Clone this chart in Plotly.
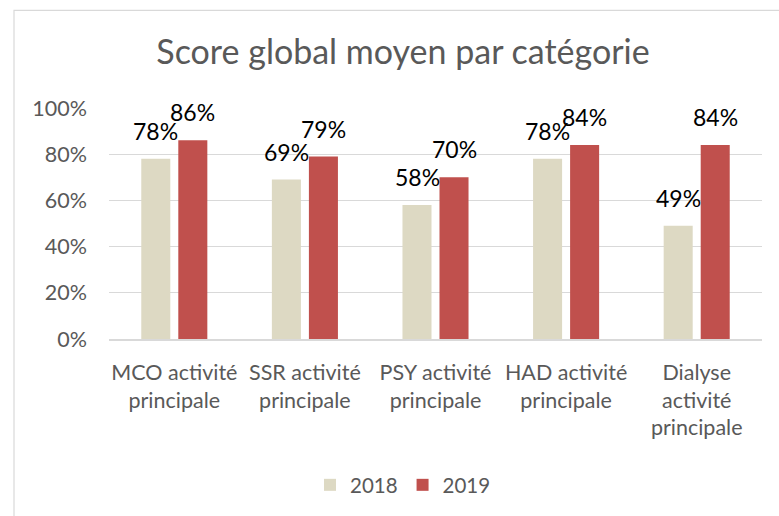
import plotly.graph_objects as go

categories = ["MCO activité<br>principale", "SSR activité<br>principale",
              "PSY activité<br>principale", "HAD activité<br>principale",
              "Dialyse<br>activité<br>principale"]
values_2018 = [0.78, 0.69, 0.58, 0.78, 0.49]
values_2019 = [0.86, 0.79, 0.70, 0.84, 0.84]
series_names = ["2018", "2019"]
colors = ["#DDD9C3", "#C0504D"]
title_text = "Score global moyen par catégorie"

FONT = "Lato"
W, H = 779, 516
L, R, T, B = 109, 17, 108, 176

fig = go.Figure()
for name, vals, col in zip(series_names, [values_2018, values_2019], colors):
    fig.add_trace(go.Bar(x=categories, y=vals, name=name, marker_color=col,
                         marker_line_width=0))

# data labels above bars
shift = 18.5
for vals, xs in [(values_2018, -shift), (values_2019, shift)]:
    for c, v in zip(categories, vals):
        fig.add_annotation(x=c, y=v, text=f"{round(v*100)}%", showarrow=False,
                           xshift=xs, yshift=12, yanchor="bottom",
                           font=dict(family=FONT, size=23, color="#000000"))

pw = W - L - R
ph = H - T - B
x0 = (14 - L) / pw
x1 = (W + 20 - L) / pw
y1 = (H - B - 10) / ph
y0 = (H - B - (H + 20)) / ph
fig.add_shape(type="rect", xref="paper", yref="paper", x0=x0, x1=x1, y0=y0, y1=y1,
              line=dict(color="#D9D9D9", width=1.2), fillcolor="rgba(0,0,0,0)",
              layer="below")

fig.update_layout(
    width=W, height=H,
    margin=dict(l=L, r=R, t=T, b=B),
    paper_bgcolor="white", plot_bgcolor="white",
    title=dict(text=title_text, x=403 / W, xanchor="center", y=1 - 52 / H,
               yanchor="middle", font=dict(family=FONT, size=34, color="#595959")),
    bargap=0.433, bargroupgap=0.216,
    font=dict(family=FONT, color="#595959"),
    legend=dict(orientation="h", x=(403 - L) / pw, xanchor="center",
                y=(H - B - 485) / ph, yanchor="middle",
                font=dict(family=FONT, size=20.5, color="#595959"),
                itemwidth=30, traceorder="normal"),
    showlegend=True,
)
fig.update_yaxes(range=[0, 1], dtick=0.2, tickformat=".0%", showgrid=True,
                 gridcolor="#D9D9D9", gridwidth=1, zeroline=False,
                 showline=False, ticks="", ticklabelstandoff=21,
                 tickfont=dict(family=FONT, size=21.5, color="#595959"))
fig.update_xaxes(showline=True, linecolor="#D9D9D9", linewidth=1.5, ticks="",
                 ticklabelstandoff=13,
                 tickfont=dict(family=FONT, size=21.5, color="#595959"))

fig.write_html("out.html", config={"displayModeBar": False},
               post_script="document.body.style.margin='0';")
